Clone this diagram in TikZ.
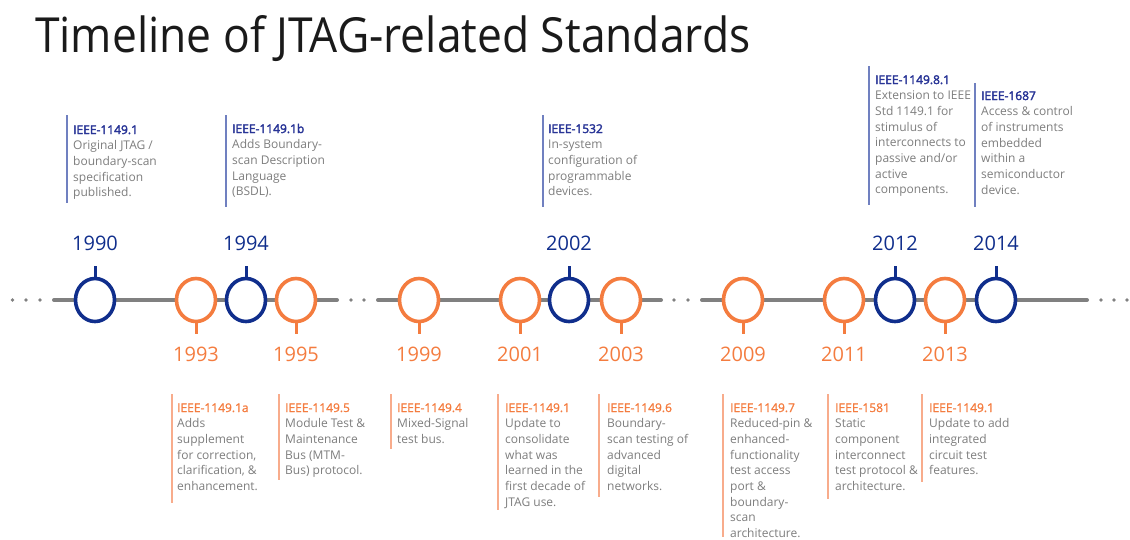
\documentclass[tikz,border=0pt]{standalone}
\usepackage{graphicx}
\usepackage{fontspec}
\setmainfont{Open Sans}
\newfontfamily\semibold[FakeBold=2.6]{Open Sans}
\newfontfamily\medium[FakeBold=1.2]{Open Sans}
\usetikzlibrary{shapes.geometric}
\definecolor{navy}{RGB}{16,46,140}
\definecolor{orng}{RGB}{244,124,63}
\definecolor{tlgray}{RGB}{128,128,128}
\definecolor{hblue}{RGB}{40,52,150}
\definecolor{bbar}{RGB}{112,128,192}
\definecolor{obar}{RGB}{248,172,140}
\definecolor{bodygray}{RGB}{125,125,125}
\definecolor{titlec}{RGB}{26,26,26}
\newcommand\bh[1]{\textcolor{hblue}{\semibold #1}}
\newcommand\oh[1]{\textcolor{orng}{\medium #1}}
\begin{document}
\begin{tikzpicture}[x=1pt,y=-1pt,
  tl/.style={line width=4pt, draw=tlgray, line cap=round},
  tdot/.style={circle, fill=tlgray, inner sep=0pt, minimum size=3.6pt},
  ev/.style={ellipse, line width=3.6pt, fill=white, minimum width=39pt, minimum height=43pt, inner sep=0pt},
  bev/.style={ev, draw=navy},
  oev/.style={ev, draw=orng},
  bstem/.style={line width=3pt, draw=navy},
  ostem/.style={line width=3pt, draw=orng},
  byr/.style={text=navy, font=\fontsize{20}{24}\selectfont, inner sep=0pt},
  oyr/.style={text=orng, font=\fontsize{20}{24}\selectfont, inner sep=0pt},
  desc/.style={anchor=base west, inner sep=0pt, text=bodygray, font=\fontsize{12}{15.7}\selectfont},
  bbarl/.style={line width=2pt, draw=bbar},
  obarl/.style={line width=2pt, draw=obar}]
\useasboundingbox (0,0) rectangle (1130,539);
% title
\node[anchor=base west, inner sep=0pt, text=titlec] (title) at (35,52) {\resizebox{715pt}{37pt}{Timeline of JTAG-related Standards}};
% timeline line
\coordinate (s1a) at (54,300); \coordinate (s1b) at (337,300);
\coordinate (s2a) at (378,300); \coordinate (s2b) at (661,300);
\coordinate (s3a) at (702,300); \coordinate (s3b) at (1087,300);
\draw[tl] (s1a) -- (s1b);
\draw[tl] (s2a) -- (s2b);
\draw[tl] (s3a) -- (s3b);
\foreach \i/\x in {1/12.5,2/26,3/40,4/351,5/364,6/674,7/688,8/1101,9/1114,10/1127}
  \node[tdot] (dot\i) at (\x,300) {};
% events
\node[bev] (c1990) at (95,300) {};
\node[oev] (c1993) at (196,300) {};
\node[bev] (c1994) at (246,300) {};
\node[oev] (c1995) at (296,300) {};
\node[oev] (c1999) at (419,300) {};
\node[oev] (c2001) at (520,300) {};
\node[bev] (c2002) at (569,300) {};
\node[oev] (c2003) at (621,300) {};
\node[oev] (c2009) at (743,300) {};
\node[oev] (c2011) at (844,300) {};
\node[bev] (c2012) at (895,300) {};
\node[oev] (c2013) at (945,300) {};
\node[bev] (c2014) at (996,300) {};
% stems and years
\foreach \y in {1990,1994,2002,2012,2014}{
  \draw[bstem] (c\y.north) -- ++(0,-11) coordinate (st\y);
  \node[byr] (y\y) at ([yshift=22pt]st\y) {\y};
}
\foreach \y in {1993,1995,1999,2001,2003,2009,2011,2013}{
  \draw[ostem] (c\y.south) -- ++(0,11) coordinate (st\y);
  \node[oyr] (y\y) at ([yshift=-20pt]st\y) {\y};
}
% top descriptions
\draw[bbarl] (67,115) -- (67,203);
\node[desc] (d1990) at (73,134) {\begin{tabular}[t]{@{}l@{}}\bh{IEEE-1149.1}\\ Original JTAG /\\ boundary-scan\\ specification\\ published.\end{tabular}};
\draw[bbarl] (226,115) -- (226,207);
\node[desc] (d1994) at (232,133) {\begin{tabular}[t]{@{}l@{}}\bh{IEEE-1149.1b}\\ Adds Boundary-\\ scan Description\\ Language\\ (BSDL).\end{tabular}};
\draw[bbarl] (543,115) -- (543,207);
\node[desc] (d2002) at (548,133) {\begin{tabular}[t]{@{}l@{}}\bh{IEEE-1532}\\ In-system\\ configuration of\\ programmable\\ devices.\end{tabular}};
\draw[bbarl] (869,66) -- (869,205);
\node[desc] (d2012) at (875,84) {\begin{tabular}[t]{@{}l@{}}\bh{IEEE-1149.8.1}\\ Extension to IEEE\\ Std 1149.1 for\\ stimulus of\\ interconnects to\\ passive and/or\\ active\\ components.\end{tabular}};
\draw[bbarl] (975,83) -- (975,207);
\node[desc] (d2014) at (981,100) {\begin{tabular}[t]{@{}l@{}}\bh{IEEE-1687}\\ Access \& control\\ of instruments\\ embedded\\ within a\\ semiconductor\\ device.\end{tabular}};
% bottom descriptions
\draw[obarl] (172,394) -- (172,503);
\node[desc] (d1993) at (177,412) {\begin{tabular}[t]{@{}l@{}}\oh{IEEE-1149.1a}\\ Adds\\ supplement\\ for correction,\\ clarification, \&\\ enhancement.\end{tabular}};
\draw[obarl] (279,394) -- (279,480);
\node[desc] (d1995) at (285,412) {\begin{tabular}[t]{@{}l@{}}\oh{IEEE-1149.5}\\ Module Test \&\\ Maintenance\\ Bus (MTM-\\ Bus) protocol.\end{tabular}};
\draw[obarl] (391,394) -- (391,449);
\node[desc] (d1999) at (397,412) {\begin{tabular}[t]{@{}l@{}}\oh{IEEE-1149.4}\\ Mixed-Signal\\ test bus.\end{tabular}};
\draw[obarl] (498,394) -- (498,510);
\node[desc] (d2001) at (505,412) {\begin{tabular}[t]{@{}l@{}}\oh{IEEE-1149.1}\\ Update to\\ consolidate\\ what was\\ learned in the\\ first decade of\\ JTAG use.\end{tabular}};
\draw[obarl] (599,394) -- (599,497);
\node[desc] (d2003) at (607,412) {\begin{tabular}[t]{@{}l@{}}\oh{IEEE-1149.6}\\ Boundary-\\ scan testing of\\ advanced\\ digital\\ networks.\end{tabular}};
\draw[obarl] (723,394) -- (723,537);
\node[desc] (d2009) at (730,412) {\begin{tabular}[t]{@{}l@{}}\oh{IEEE-1149.7}\\ Reduced-pin \&\\ enhanced-\\ functionality\\ test access\\ port \&\\ boundary-\\ scan\\ architecture.\end{tabular}};
\draw[obarl] (828,394) -- (828,499);
\node[desc] (d2011) at (835,412) {\begin{tabular}[t]{@{}l@{}}\oh{IEEE-1581}\\ Static\\ component\\ interconnect\\ test protocol \&\\ architecture.\end{tabular}};
\draw[obarl] (922,394) -- (922,482);
\node[desc] (d2013) at (929,412) {\begin{tabular}[t]{@{}l@{}}\oh{IEEE-1149.1}\\ Update to add\\ integrated\\ circuit test\\ features.\end{tabular}};
\end{tikzpicture}
\end{document}
